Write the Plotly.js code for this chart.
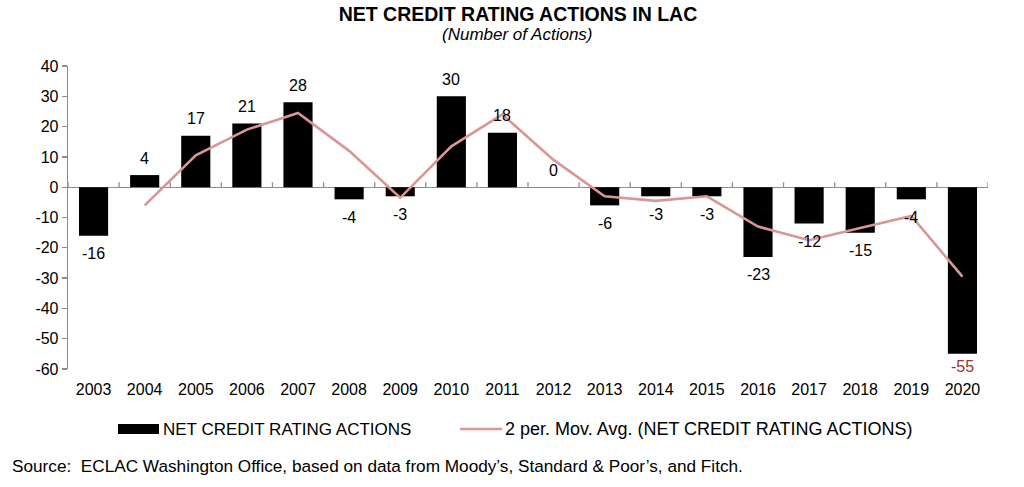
<!DOCTYPE html>
<html>
<head>
<meta charset="utf-8">
<script src="https://cdn.plot.ly/plotly-3.0.1.min.js"></script>
<style>html,body{margin:0;padding:0;background:#fff;}#chart{width:1024px;height:487px;}</style>
</head>
<body>
<div id="chart"></div>
<script>
// ---- data ----
const years = ['2003','2004','2005','2006','2007','2008','2009','2010','2011','2012','2013','2014','2015','2016','2017','2018','2019','2020'];
const netActions = [-16, 4, 17, 21, 28, -4, -3, 30, 18, 0, -6, -3, -3, -23, -12, -15, -4, -55];
const movAvg = [null, -6, 10.5, 19, 24.5, 12, -3.5, 13.5, 24, 9, -3, -4.5, -3, -13, -17.5, -13.5, -9.5, -29.5];
const yTicks = [40, 30, 20, 10, 0, -10, -20, -30, -40, -50, -60];
const barName = 'NET CREDIT RATING ACTIONS';
const lineName = '2 per. Mov. Avg. (NET CREDIT RATING ACTIONS)';
const titleText = 'NET CREDIT RATING ACTIONS IN LAC';
const subtitleText = '(Number of Actions)';
const sourceText = 'Source:  ECLAC Washington Office, based on data from Moody\u2019s, Standard & Poor\u2019s, and Fitch.';

// ---- styling ----
const FONT = 'Arial, "Liberation Sans", sans-serif';
const GRAY = '#8c8c8c';
const PINK = '#d99694';
const W = 1024, H = 487, ML = 68, MR = 36, MT = 66, MB = 118;
const PW = W - ML - MR, PH = H - MT - MB;
const px2x = p => (p - ML) / PW;
const py2y = p => (H - MB - p) / PH;

const bars = {
  type: 'bar', x: years, y: netActions, name: barName,
  marker: {color: '#000000', line: {width: 0}},
  showlegend: false
};
const line = {
  type: 'scatter', mode: 'lines', x: years, y: movAvg, name: lineName,
  line: {color: PINK, width: 2.6}, connectgaps: false, showlegend: false
};

// value labels: x given as category index (year strings look numeric)
const annotations = netActions.map((v, i) => ({
  x: i, y: v, xref: 'x', yref: 'y', text: String(v), showarrow: false,
  yshift: v >= 0 ? 17 : (v < -50 ? -13 : -18),
  font: {family: FONT, size: 16, color: v < -50 ? '#a0302e' : '#000'}
}));
annotations.push({
  xref: 'paper', yref: 'paper', x: px2x(517), y: py2y(34), xanchor: 'center', yanchor: 'middle',
  text: '<i>' + subtitleText + '</i>', showarrow: false,
  font: {family: FONT, size: 17, color: '#000'}
});
annotations.push({
  xref: 'paper', yref: 'paper', x: px2x(161), y: py2y(429), xanchor: 'left', yanchor: 'middle',
  text: barName, showarrow: false, font: {family: FONT, size: 17, color: '#000'}
});
annotations.push({
  xref: 'paper', yref: 'paper', x: px2x(503), y: py2y(429), xanchor: 'left', yanchor: 'middle',
  text: lineName, showarrow: false, font: {family: FONT, size: 18, color: '#000'}
});
annotations.push({
  xref: 'paper', yref: 'paper', x: px2x(10), y: py2y(466), xanchor: 'left', yanchor: 'middle',
  text: sourceText, showarrow: false, font: {family: FONT, size: 17.2, color: '#000'}
});

const shapes = [
  {type: 'rect', xref: 'paper', yref: 'paper', x0: px2x(118), x1: px2x(159), y0: py2y(434), y1: py2y(424),
   fillcolor: '#000', line: {width: 0}},
  {type: 'line', xref: 'paper', yref: 'paper', x0: px2x(460), x1: px2x(502), y0: py2y(429), y1: py2y(429),
   line: {color: PINK, width: 2.6}}
];
// category-boundary tick marks on the zero line (pointing up)
for (let i = 0; i <= years.length; i++) {
  shapes.push({type: 'line', xref: 'x', yref: 'y', x0: i - 0.5, x1: i - 0.5,
    ysizemode: 'pixel', yanchor: 0, y0: 0, y1: 5, layer: 'below',
    line: {color: GRAY, width: 1.3}});
}

const layout = {
  width: W, height: H,
  margin: {l: ML, r: MR, t: MT, b: MB, pad: 0},
  paper_bgcolor: '#fff', plot_bgcolor: '#fff',
  font: {family: FONT, size: 16, color: '#000'},
  title: {text: '<b>' + titleText + '</b>', x: 518 / W, xref: 'container', xanchor: 'center',
          y: 1 - 14 / H, yref: 'container', yanchor: 'middle',
          font: {family: FONT, size: 19.5, color: '#000'}},
  showlegend: false,
  bargap: 0.43,
  xaxis: {type: 'category', categoryorder: 'array', categoryarray: years,
          range: [-0.5, years.length - 0.5],
          showline: false, showgrid: false, zeroline: false,
          ticks: 'outside', ticklen: 6, tickcolor: 'rgba(0,0,0,0)',
          tickfont: {family: FONT, size: 16, color: '#000'}, fixedrange: true},
  yaxis: {range: [-60, 40], tickvals: yTicks, ticktext: yTicks.map(String),
          showline: true, linecolor: GRAY, linewidth: 1.3,
          ticks: 'outside', ticklen: 5, tickcolor: GRAY, tickwidth: 1.3,
          showgrid: false, zeroline: true, zerolinecolor: GRAY, zerolinewidth: 1.3,
          tickfont: {family: FONT, size: 16, color: '#000'}, fixedrange: true},
  annotations: annotations,
  shapes: shapes
};

Plotly.newPlot('chart', [bars, line], layout, {displayModeBar: false, staticPlot: true});
</script>
</body>
</html>
